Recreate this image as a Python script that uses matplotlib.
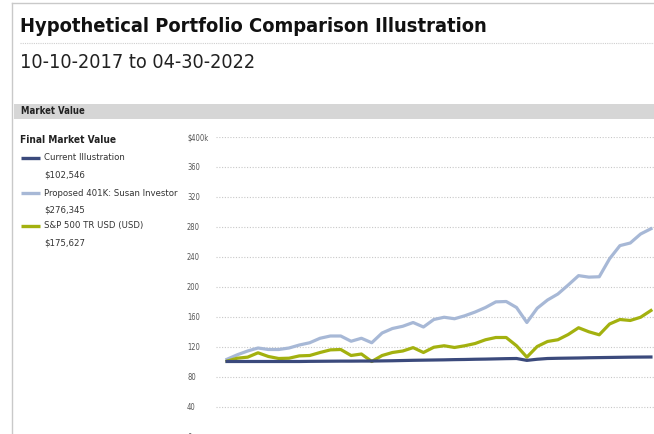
import matplotlib
matplotlib.use("Agg")
import matplotlib.pyplot as plt
from matplotlib.lines import Line2D
from matplotlib.patches import Rectangle
from matplotlib import font_manager as fm

W, H = 654, 434

# ---- data (monthly, starting Oct 2017; visible portion of chart) ----
months = list(range(42))
current_illustration = [100, 100, 100, 100, 100, 100, 100, 100, 100.2, 100.3,
                        100.4, 100.5, 100.5, 100.6, 100.6, 100.8, 101, 101.3, 101.6, 101.8,
                        102, 102.2, 102.5, 102.7, 103, 103.2, 103.5, 103.8, 104, 101.5,
                        103, 104, 104.3, 104.5, 104.7, 105, 105.2, 105.4, 105.6, 105.8,
                        105.9, 106]
proposed_401k = [103, 109, 114, 118, 116, 116, 118, 122, 125, 131,
                 134, 134, 127, 131, 125, 138, 144, 147, 152, 146,
                 156, 159, 157, 161, 166, 172, 179.5, 180, 172, 152,
                 171, 182, 190, 202, 214.5, 212.5, 213, 237, 254.5, 258,
                 270, 277]
sp500 = [100.5, 104.4, 105.8, 111.6, 106.7, 104, 104.4, 107.5, 108, 112,
         115.5, 116, 108, 110, 100, 108, 112, 114, 118.5, 112,
         119, 121, 118.7, 121, 124, 129, 132, 132, 121, 105.8,
         120, 126.7, 129, 136, 145, 139.6, 135.6, 150, 156, 154.7,
         159, 168]
series_names = ["Current Illustration", "Proposed 401K: Susan Investor", "S&P 500 TR USD (USD)"]
final_values = ["$102,546", "$276,345", "$175,627"]
colors = ["#3b4a7c", "#a7b8d6", "#a3b10f"]
yticks = [0, 40, 80, 120, 160, 200, 240, 280, 320, 360, 400]
ytick_labels = ["0", "40", "80", "120", "160", "200", "240", "280", "320", "360", "$400k"]


# ---- pick a narrow / condensed font if one is installed ----
def pick_font(bold):
    narrow = []
    for f in fm.fontManager.ttflist:
        nm = f.name
        st = str(f.stretch)
        if ("Narrow" in nm or "Condensed" in nm or st in ("condensed", "semi-condensed", "extra-condensed", "ultra-condensed")) \
                and "Mono" not in nm and "CJK" not in nm and "Serif" not in nm:
            if f.style != "normal":
                continue
            w = f.weight if isinstance(f.weight, int) else (700 if "bold" in str(f.weight).lower() else 400)
            if bold and w >= 600:
                narrow.append((abs(w - 700), f))
            elif not bold and w < 600:
                narrow.append((abs(w - 400), f))
    if narrow:
        narrow.sort(key=lambda t: (0 if "Liberation" in t[1].name else 1, t[0]))
        return fm.FontProperties(fname=narrow[0][1].fname)
    return fm.FontProperties(family=["Liberation Sans", "DejaVu Sans"],
                             weight="bold" if bold else "normal")


FP_REG = pick_font(False)
FP_BOLD = pick_font(True)

fig = plt.figure(figsize=(W / 100, H / 100), dpi=100)
fig.patch.set_facecolor("white")
renderer = fig.canvas.get_renderer()


def fx(px):
    return px / W


def fy(py):
    return 1 - py / H


def fitted_size(text, fp, target_w, max_size, slack=1.1):
    # the reference uses a condensed face; let text run a little wider so it keeps some height
    p = fp.copy()
    p.set_size(max_size)
    t = fig.text(0, 0, text, fontproperties=p)
    w = t.get_window_extent(renderer).width
    t.remove()
    return min(max_size, max_size * target_w * slack / w)


def put(x, y, text, fp, size, color="#222222"):
    p = fp.copy()
    p.set_size(size)
    return fig.text(fx(x), fy(y), text, fontproperties=p, ha="left", va="center", color=color)


# frame
fig.add_artist(Line2D([fx(12), fx(12)], [fy(3), fy(434)], color="#c9c9c9", lw=1.0))
fig.add_artist(Line2D([fx(12), fx(654)], [fy(3), fy(3)], color="#c9c9c9", lw=1.0))

# title
title = "Hypothetical Portfolio Comparison Illustration"
put(20, 26.5, title, FP_BOLD, fitted_size(title, FP_BOLD, 428, 16), "#111111")
fig.add_artist(Line2D([fx(20), fx(654)], [fy(43), fy(43)], color="#cfcfcf", lw=0.8,
                      linestyle=(0, (1, 1))))
subtitle = "10-10-2017 to 04-30-2022"
put(20, 63, subtitle, FP_REG, fitted_size(subtitle, FP_REG, 216, 16), "#222222")

# section band
fig.add_artist(Rectangle((fx(14), fy(118.5)), fx(654) - fx(14), (118.5 - 104) / H,
                         facecolor="#d6d6d6", edgecolor="none"))
put(21, 111.5, "Market Value", FP_BOLD, fitted_size("Market Value", FP_BOLD, 58, 7))

# legend block
put(20, 140, "Final Market Value", FP_BOLD, fitted_size("Final Market Value", FP_BOLD, 87, 8.5))
leg_size = fitted_size(series_names[1], FP_REG, 124, 8.5, slack=1.07)
legend_rows = [158, 193, 226]
for name, val, col, yy in zip(series_names, final_values, colors, legend_rows):
    fig.add_artist(Line2D([fx(21), fx(40)], [fy(yy), fy(yy)], color=col, lw=2.4,
                          solid_capstyle="butt"))
    put(44, yy, name, FP_REG, leg_size, "#333333")
    put(44, yy + 17, val, FP_REG, leg_size, "#333333")

# chart axes (extends past the screenshot on the right / bottom)
step = 10.34
x0 = 227.0
ax_left_px, ax_right_px = 216, 654
ax_top_px, ax_bot_px = 136.5, 436.5
label_left_px = 187
ax = fig.add_axes([fx(ax_left_px), fy(ax_bot_px), (ax_right_px - ax_left_px) / W,
                   (ax_bot_px - ax_top_px) / H])
ax.set_xlim((ax_left_px - x0) / step, (ax_right_px - x0) / step)
ax.set_ylim(0, 400)
for s in ax.spines.values():
    s.set_visible(False)
ax.set_xticks([])
ax.set_yticks(yticks)
ax.set_yticklabels(ytick_labels)
tick_size = fitted_size("$400k", FP_REG, 19, 6.5)
ax.tick_params(axis="y", length=0, pad=(ax_left_px - label_left_px) * 72 / 100,
               labelcolor="#555555")
tp = FP_REG.copy()
tp.set_size(tick_size)
for lab in ax.get_yticklabels():
    lab.set_horizontalalignment("left")
    lab.set_fontproperties(tp)
ax.grid(axis="y", color="#c8c8c8", lw=0.8, linestyle=(0, (1, 1.5)))
ax.set_axisbelow(True)

ax.plot(months, proposed_401k, color=colors[1], lw=2.3, solid_joinstyle="round")
ax.plot(months, sp500, color=colors[2], lw=2.3, solid_joinstyle="round")
ax.plot(months, current_illustration, color=colors[0], lw=2.3, solid_joinstyle="round")

fig.savefig("out.png", dpi=100)
